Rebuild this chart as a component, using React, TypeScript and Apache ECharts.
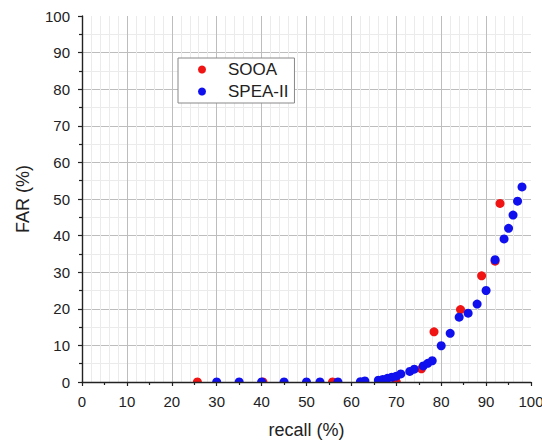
import React, { useEffect, useRef } from "react";
import * as echarts from "echarts";

const sooaRecall = [25.7, 40.3, 55.8, 70.0, 75.6, 78.4, 84.3, 89.0, 92.0, 93.1];
const sooaFar = [0, 0, 0, 0, 3.6, 13.7, 19.8, 29.0, 33.0, 48.8];

const speaRecall = [30, 35, 40, 45, 50, 53, 57, 62, 63, 66, 67, 68, 69, 70, 71, 73, 74, 76, 77, 78, 80, 82, 84, 86, 88, 90, 92, 94, 95, 96, 97, 98];
const speaFar = [0, 0, 0, 0, 0, 0, 0, 0.1, 0.3, 0.5, 0.7, 1.0, 1.3, 1.6, 2.2, 2.9, 3.5, 4.4, 5.1, 5.8, 9.9, 13.3, 17.7, 18.8, 21.3, 25.0, 33.4, 39.1, 42.0, 45.6, 49.4, 53.3];

const seriesNames = ["SOOA", "SPEA-II"];
const xTitle = "recall (%)";
const yTitle = "FAR (%)";

const FONT = "'Liberation Sans', Arial, sans-serif";

export default function App() {
  const ref = useRef<HTMLDivElement>(null);
  useEffect(() => {
    if (!ref.current) return;
    const chart = echarts.init(ref.current, null, { renderer: "svg" });
    const tickCommon = {
      minorTick: { show: true, splitNumber: 2, length: 3, lineStyle: { color: "#222", width: 1.2 } },
      axisTick: { show: true, inside: false, length: 4, lineStyle: { color: "#222", width: 1.2 } },
      axisLine: { show: true, onZero: false, lineStyle: { color: "#222", width: 1.4 } },
      axisLabel: { show: true, color: "#222", fontSize: 15, fontFamily: FONT, margin: 12 },
    };
    const base = {
      type: "value",
      min: 0,
      max: 100,
      interval: 10,
      nameLocation: "middle",
      nameTextStyle: { color: "#222", fontSize: 18, fontFamily: FONT },
    };
    const gridLines = {
      splitLine: { show: true, showMaxLine: false, showMinLine: false, lineStyle: { color: "#bdbdbd", width: 1 } },
      minorSplitLine: { show: true, lineStyle: { color: "#ebebeb", width: 1 } },
    };
    chart.setOption({
      animation: false,
      backgroundColor: "#fff",
      grid: { left: 82, right: 11, top: 16, bottom: 59, outerBoundsMode: "none", containLabel: false },
      legend: {
        orient: "vertical",
        left: 178,
        top: 58,
        padding: [3, 6, 3, 20],
        itemGap: 5,
        itemWidth: 8,
        itemHeight: 8,
        borderColor: "#888",
        borderWidth: 1,
        backgroundColor: "#fff",
        z: 10,
        textStyle: { color: "#222", fontSize: 17, fontFamily: FONT, padding: [0, 0, 0, 17] },
        data: [
          { name: seriesNames[0], icon: "circle" },
          { name: seriesNames[1], icon: "circle" },
        ],
      },
      xAxis: [
        {
          ...base,
          ...gridLines,
          position: "bottom",
          axisLine: { show: false },
          axisTick: { show: false },
          minorTick: { show: false },
          axisLabel: { show: false },
          z: 0,
        },
        {
          ...base,
          ...tickCommon,
          position: "bottom",
          name: xTitle,
          nameGap: 39,
          splitLine: { show: false },
          minorSplitLine: { show: false },
          z: 5,
        },
      ],
      yAxis: { ...base, ...tickCommon, ...gridLines, name: yTitle, nameGap: 50, nameRotate: 90, z: 0 },
      graphic: [
        {
          type: "rect",
          z: 3,
          shape: { x: 83, y: 382.8, width: 459, height: 10 },
          style: { fill: "#fff" },
        },
      ],
      series: [
        {
          name: seriesNames[0],
          type: "scatter",
          symbol: "circle",
          symbolSize: 9,
          itemStyle: { color: "#f01414", opacity: 1 },
          data: sooaRecall.map((x, i) => [x, sooaFar[i]]),
          clip: false,
          z: 2,
        },
        {
          name: seriesNames[1],
          type: "scatter",
          symbol: "circle",
          symbolSize: 9,
          itemStyle: { color: "#1010ee", opacity: 1 },
          data: speaRecall.map((x, i) => [x, speaFar[i]]),
          clip: false,
          z: 2,
        },
      ],
    });
    return () => chart.dispose();
  }, []);
  return <div ref={ref} style={{ width: 542, height: 441, position: "absolute", left: 0, top: 0 }} />;
}
